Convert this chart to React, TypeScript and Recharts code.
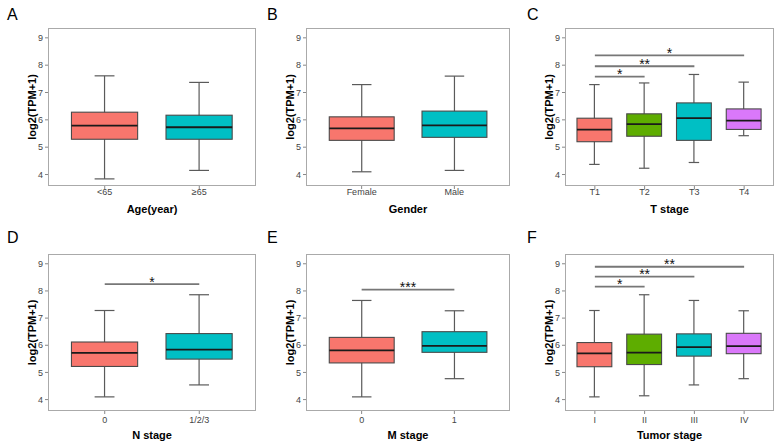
import React from 'react'
import { ComposedChart, Bar, XAxis, YAxis, ReferenceLine, Label } from 'recharts'

const FONT = '"Liberation Sans", Arial, Helvetica, sans-serif'

// each row: [min, Q1, median, Q3, max]
const ageGroups = ['<65', '≥65']
const ageStats = [
  [3.84, 5.29, 5.79, 6.28, 7.61],
  [4.15, 5.29, 5.73, 6.17, 7.37],
]

const genderGroups = ['Female', 'Male']
const genderStats = [
  [4.1, 5.25, 5.69, 6.11, 7.29],
  [4.15, 5.36, 5.8, 6.32, 7.6],
]

const tGroups = ['T1', 'T2', 'T3', 'T4']
const tStats = [
  [4.37, 5.2, 5.64, 6.06, 7.29],
  [4.23, 5.4, 5.84, 6.22, 7.35],
  [4.44, 5.25, 6.06, 6.62, 7.66],
  [5.42, 5.65, 5.97, 6.4, 7.38],
]
const tSig = [
  { from: 'T1', to: 'T2', y: 7.58, mark: '*' },
  { from: 'T1', to: 'T3', y: 7.96, mark: '**' },
  { from: 'T1', to: 'T4', y: 8.36, mark: '*' },
]

const nGroups = ['0', '1/2/3']
const nStats = [
  [4.1, 5.22, 5.72, 6.12, 7.28],
  [4.54, 5.49, 5.84, 6.43, 7.86],
]
const nSig = [{ from: '0', to: '1/2/3', y: 8.25, mark: '*' }]

const mGroups = ['0', '1']
const mStats = [
  [4.1, 5.35, 5.81, 6.29, 7.65],
  [4.77, 5.74, 5.98, 6.5, 7.27],
]
const mSig = [{ from: '0', to: '1', y: 8.05, mark: '***' }]

const stageGroups = ['I', 'II', 'III', 'IV']
const stageStats = [
  [4.1, 5.21, 5.7, 6.1, 7.28],
  [4.14, 5.29, 5.73, 6.41, 7.86],
  [4.54, 5.6, 5.93, 6.42, 7.65],
  [4.77, 5.69, 5.97, 6.44, 7.27],
]
const stageSig = [
  { from: 'I', to: 'II', y: 8.16, mark: '*' },
  { from: 'I', to: 'III', y: 8.53, mark: '**' },
  { from: 'I', to: 'IV', y: 8.89, mark: '**' },
]

const yTicks = [4, 5, 6, 7, 8, 9]
const yDomain = [3.58, 9.36]

const RED = '#F8766D'
const CYAN = '#00BFC4'
const GREEN = '#5EAD00'
const PURPLE = '#DA78FA'

const cols = [
  { x: 0, axisW: 48, right: 4 },
  { x: 260, axisW: 46, right: 10 },
  { x: 520, axisW: 45, right: 6 },
]
const rows = [
  { y: 0, h: 222, top: 28, xAxisH: 36, tickGap: 0, titleOffset: 9, letterTop: 6.5 },
  { y: 222, h: 223, top: 32, xAxisH: 34, tickGap: 2.5, titleOffset: 6, letterTop: 229.8 },
]

const boxShape = (colors: string[]) => (p: any) => {
  const { x, y, width, height, payload, index } = p
  const { min, q1, med, q3, max } = payload
  // y is the pixel of max, y + height the pixel of min
  const py = (v: number) => y + height - ((v - min) / (max - min)) * height
  const cx = x + width / 2
  const cap = width * 0.3
  return (
    <g>
      <line x1={cx} x2={cx} y1={py(max)} y2={py(min)} stroke="#5a5a5a" strokeWidth={1.2} />
      <line x1={cx - cap / 2} x2={cx + cap / 2} y1={py(max)} y2={py(max)} stroke="#5a5a5a" strokeWidth={1.2} />
      <line x1={cx - cap / 2} x2={cx + cap / 2} y1={py(min)} y2={py(min)} stroke="#5a5a5a" strokeWidth={1.2} />
      <rect x={x} y={py(q3)} width={width} height={py(q1) - py(q3)} fill={colors[index]} stroke="#4a4a4a" strokeWidth={1.1} />
      <line x1={x} x2={x + width} y1={py(med)} y2={py(med)} stroke="#1a1a1a" strokeWidth={1.8} />
    </g>
  )
}

interface PanelProps {
  letter: string
  title: string
  groups: string[]
  stats: number[][]
  sig?: { from: string; to: string; y: number; mark: string }[]
  colors: string[]
  col: number
  row: number
}

function BoxPanel({ letter, title, groups, stats, sig = [], colors, col, row }: PanelProps) {
  const c = cols[col]
  const r = rows[row]
  const plotW = 260 - c.axisW - c.right
  const plotH = r.h - r.top - r.xAxisH
  const unit = plotW / (groups.length + 0.2)
  const pad = unit * 0.1
  const data = groups.map((g, i) => ({
    name: g,
    min: stats[i][0],
    q1: stats[i][1],
    med: stats[i][2],
    q3: stats[i][3],
    max: stats[i][4],
  }))

  return (
    <>
      <div
        style={{
          position: 'absolute',
          left: c.x + 7,
          top: r.letterTop,
          fontFamily: FONT,
          fontSize: 16,
          lineHeight: '16px',
          color: '#000',
        }}
      >
        {letter}
      </div>
      <div style={{ position: 'absolute', left: c.x, top: r.y }}>
        <ComposedChart
          width={260}
          height={r.h}
          data={data}
          margin={{ top: r.top, right: c.right, bottom: 0, left: 0 }}
        >
          <XAxis
            dataKey="name"
            interval={0}
            padding={{ left: pad, right: pad }}
            axisLine={false}
            tickLine={{ stroke: '#888' }}
            tickSize={3}
            tickMargin={r.tickGap}
            height={r.xAxisH}
            tick={{ fontSize: 9, fill: '#444', fontFamily: FONT }}
          >
            <Label
              content={(p: any) => {
                const vb = p.viewBox
                return (
                  <text
                    x={vb.x + vb.width / 2}
                    y={vb.y + vb.height - r.titleOffset}
                    textAnchor="middle"
                    fontFamily={FONT}
                    fontSize={11}
                    fontWeight="bold"
                    fill="#000"
                  >
                    {title}
                  </text>
                )
              }}
            />
          </XAxis>
          <YAxis
            type="number"
            domain={yDomain}
            ticks={yTicks}
            allowDataOverflow
            width={c.axisW}
            axisLine={false}
            tickLine={{ stroke: '#888' }}
            tickSize={3}
            tickMargin={2}
            tick={{ fontSize: 9, fill: '#444', fontFamily: FONT }}
          >
            <Label
              content={(p: any) => {
                const vb = p.viewBox
                const lx = vb.x + vb.width - 12
                const ly = vb.y + vb.height / 2
                return (
                  <text
                    x={lx}
                    y={ly}
                    transform={`rotate(-90, ${lx}, ${ly})`}
                    textAnchor="middle"
                    fontFamily={FONT}
                    fontSize={11}
                    fontWeight="bold"
                    fill="#000"
                  >
                    log2(TPM+1)
                  </text>
                )
              }}
            />
          </YAxis>
          <Bar
            dataKey={(d: any) => [d.min, d.max]}
            barSize={unit * 0.7}
            isAnimationActive={false}
            shape={boxShape(colors)}
          />
          {sig.map((s) => (
            <ReferenceLine
              key={s.to}
              segment={[
                { x: s.from, y: s.y },
                { x: s.to, y: s.y },
              ]}
              stroke="#777"
              strokeWidth={1.8}
              label={(p: any) => {
                const vb = p.viewBox
                return (
                  <text
                    x={vb.x + vb.width / 2}
                    y={vb.y + 2.5}
                    textAnchor="middle"
                    fontFamily={FONT}
                    fontSize={14}
                    fill="#111"
                  >
                    {s.mark}
                  </text>
                )
              }}
            />
          ))}
        </ComposedChart>
      </div>
      <div
        style={{
          position: 'absolute',
          left: c.x + c.axisW,
          top: r.y + r.top,
          width: plotW,
          height: plotH,
          border: '1.2px solid #aaa',
          boxSizing: 'border-box',
          pointerEvents: 'none',
        }}
      />
    </>
  )
}

export default function App() {
  return (
    <div style={{ position: 'absolute', left: 0, top: 0, width: 780, height: 445, background: '#fff' }}>
      <BoxPanel letter="A" title="Age(year)" groups={ageGroups} stats={ageStats} colors={[RED, CYAN]} col={0} row={0} />
      <BoxPanel letter="B" title="Gender" groups={genderGroups} stats={genderStats} colors={[RED, CYAN]} col={1} row={0} />
      <BoxPanel letter="C" title="T stage" groups={tGroups} stats={tStats} sig={tSig} colors={[RED, GREEN, CYAN, PURPLE]} col={2} row={0} />
      <BoxPanel letter="D" title="N stage" groups={nGroups} stats={nStats} sig={nSig} colors={[RED, CYAN]} col={0} row={1} />
      <BoxPanel letter="E" title="M stage" groups={mGroups} stats={mStats} sig={mSig} colors={[RED, CYAN]} col={1} row={1} />
      <BoxPanel letter="F" title="Tumor stage" groups={stageGroups} stats={stageStats} sig={stageSig} colors={[RED, GREEN, CYAN, PURPLE]} col={2} row={1} />
    </div>
  )
}
